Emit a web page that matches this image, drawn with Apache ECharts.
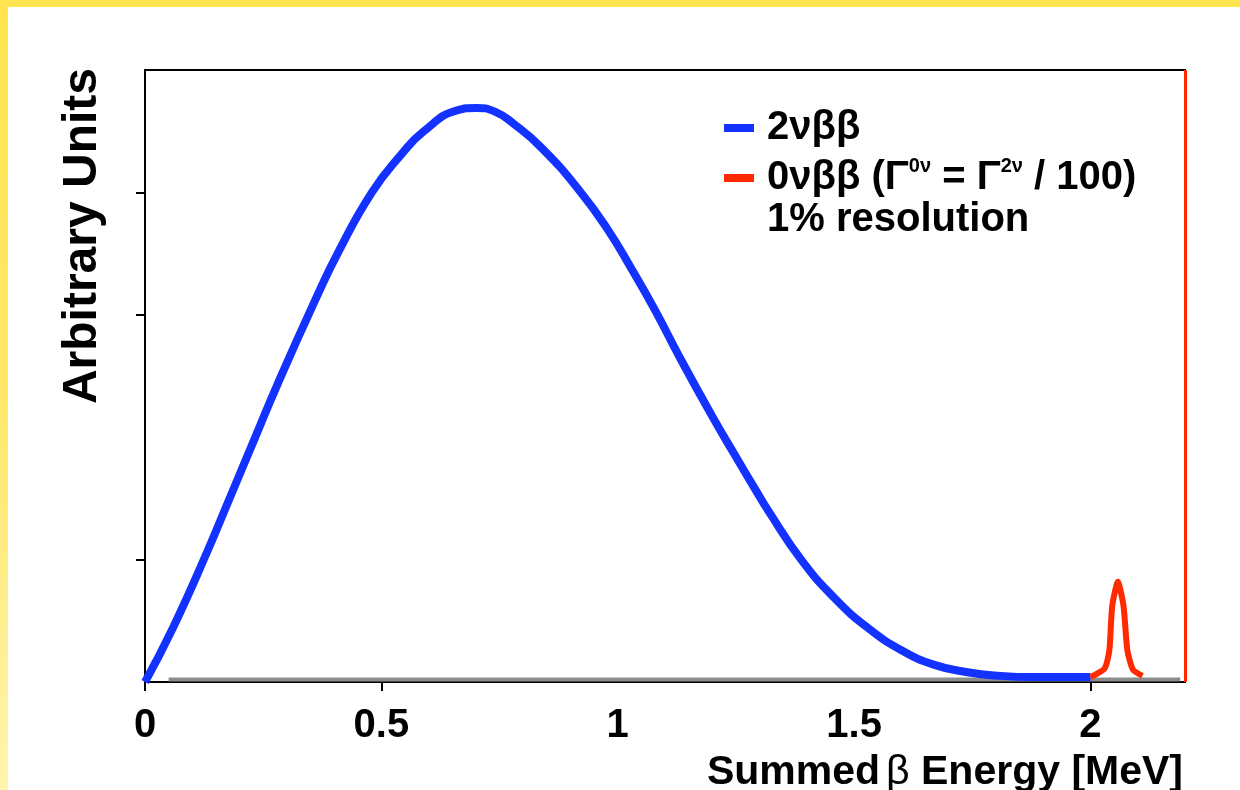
<!DOCTYPE html>
<html>
<head>
<meta charset="utf-8">
<title>Summed beta energy</title>
<script src="https://cdn.jsdelivr.net/npm/echarts@6/dist/echarts.min.js"></script>
<style>
  html, body { margin: 0; padding: 0; }
  body {
    width: 1240px; height: 790px; overflow: hidden;
    background: linear-gradient(to bottom, #ffe44f 0%, #ffe869 50%, #fff4ad 100%);
  }
  #main {
    position: absolute; left: 8px; top: 7px;
    width: 1232px; height: 783px; background: #fff;
  }
</style>
</head>
<body>
<div id="main"></div>
<script type="text/javascript">
    // 2vbb spectrum (MeV, arbitrary units)
    var energy2v = [0.00, 0.06, 0.13, 0.18, 0.23, 0.28, 0.36, 0.41, 0.48, 0.54, 0.59, 0.66, 0.70, 0.74, 0.78, 0.84,
                    0.92, 0.98, 1.03, 1.08, 1.13, 1.20, 1.25, 1.29, 1.32, 1.39, 1.46, 1.53, 1.60, 1.67, 1.74, 1.81, 1.88, 2.00];
    var counts2v = [0.00, 0.45, 1.05, 1.51, 1.97, 2.43, 3.12, 3.52, 4.00, 4.30, 4.50, 4.67, 4.69, 4.66, 4.56, 4.36,
                    4.01, 3.69, 3.37, 3.03, 2.66, 2.17, 1.84, 1.58, 1.39, 0.99, 0.68, 0.44, 0.26, 0.14, 0.08, 0.05, 0.04, 0.04];

    // 0vbb peak (1% resolution)
    var energy0v = [2.000, 2.030, 2.040, 2.046, 2.058, 2.070, 2.078, 2.090, 2.110];
    var counts0v = [0.04, 0.11, 0.26, 0.62, 0.82, 0.62, 0.26, 0.10, 0.05];

    // grey flat line along the bottom
    var energyBase = [0.05, 2.19];
    var countsBase = [0.02, 0.02];

    var xLabels = [0, 0.5, 1, 1.5, 2];
    var xTicks = [0, 0.5, 2];
    var yTicks = [1, 3, 4];
    var endLine = 2.196;

    function pairs(xs, ys) {
        return xs.map(function (x, i) { return [x, ys[i]]; });
    }

    var font = 'Liberation Sans, Arial, sans-serif';
    var myChart = echarts.init(document.getElementById('main'));

    var option = {
        animation: false,
        grid: {
            left: 137, top: 63, right: 55, bottom: 108,
            outerBoundsMode: 'none',
            containLabel: false,
            show: true, borderColor: '#000', borderWidth: 2
        },
        legend: {
            orient: 'vertical',
            left: 711, top: 94,
            selectedMode: false,
            icon: 'rect',
            itemWidth: 30, itemHeight: 8,
            itemGap: 6,
            data: ['2v', '0v'],
            formatter: function (name) {
                if (name === '2v') return '2νββ';
                return '0νββ (Γ{sup|0ν} = Γ{sup|2ν} / 100)';
            },
            textStyle: {
                fontFamily: font, fontWeight: 'bold', fontSize: 40, color: '#000',
                lineHeight: 44, padding: [0, 0, 0, 8],
                rich: {
                    sup: {
                        fontFamily: font, fontWeight: 'bold', fontSize: 20, color: '#000',
                        verticalAlign: 'top', lineHeight: 44, padding: [0, 0, 14, 0]
                    }
                }
            }
        },
        graphic: [
            {
                type: 'text', x: 759, y: 213,
                style: {
                    text: '1% resolution', fill: '#000',
                    font: 'bold 40px ' + font,
                    textAlign: 'left', textVerticalAlign: 'middle', align: 'left', verticalAlign: 'middle'
                }
            },
            {
                type: 'text', x: 75, y: 61, rotation: Math.PI / 2,
                style: {
                    text: 'Arbitrary Units', fill: '#000',
                    font: 'bold 48px ' + font,
                    textAlign: 'right', textVerticalAlign: 'middle', align: 'right', verticalAlign: 'middle'
                }
            }
        ],
        xAxis: {
            type: 'value',
            min: 0, max: 2.2, interval: 0.5,
            name: 'Summed{b|β} Energy [MeV]',
            nameLocation: 'end',
            nameGap: -2,
            nameTextStyle: {
                fontFamily: font, fontWeight: 'bold', fontSize: 41, color: '#000',
                align: 'right', verticalAlign: 'top', padding: [70, 0, 0, 0],
                rich: {
                    b: { fontFamily: font, fontWeight: 'normal', fontSize: 41, color: '#000', padding: [0, 0, 0, 6] }
                }
            },
            axisLine: { lineStyle: { color: '#000', width: 2 } },
            axisTick: { show: true, customValues: xTicks, length: 9, lineStyle: { color: '#000', width: 2 } },
            axisLabel: {
                customValues: xLabels,
                margin: 24,
                fontFamily: font, fontWeight: 'bold', fontSize: 40, color: '#000'
            },
            splitLine: { show: false }
        },
        yAxis: {
            type: 'value',
            min: 0, max: 5, interval: 1,
            axisLine: { show: true, lineStyle: { color: '#000', width: 2 } },
            axisTick: { show: true, customValues: yTicks, length: 9, lineStyle: { color: '#000', width: 2 } },
            axisLabel: { show: false },
            splitLine: { show: false }
        },
        series: [
            {
                name: 'base',
                type: 'line',
                data: pairs(energyBase, countsBase),
                showSymbol: false,
                lineStyle: { color: '#8c8c8c', width: 4 },
                z: 2
            },
            {
                name: '2v',
                type: 'line',
                data: pairs(energy2v, counts2v),
                smooth: 0.5,
                showSymbol: false,
                color: '#1432ff',
                lineStyle: { color: '#1432ff', width: 8 },
                z: 3
            },
            {
                name: '0v',
                type: 'line',
                data: pairs(energy0v, counts0v),
                smooth: 0.2,
                showSymbol: false,
                color: '#ff2a00',
                lineStyle: { color: '#ff2a00', width: 6 },
                z: 4,
                markLine: {
                    silent: true,
                    symbol: 'none',
                    label: { show: false },
                    lineStyle: { color: '#ff2a00', width: 3, type: 'solid' },
                    data: [{ xAxis: endLine }]
                }
            }
        ]
    };

    myChart.setOption(option);
</script>
</body>
</html>
